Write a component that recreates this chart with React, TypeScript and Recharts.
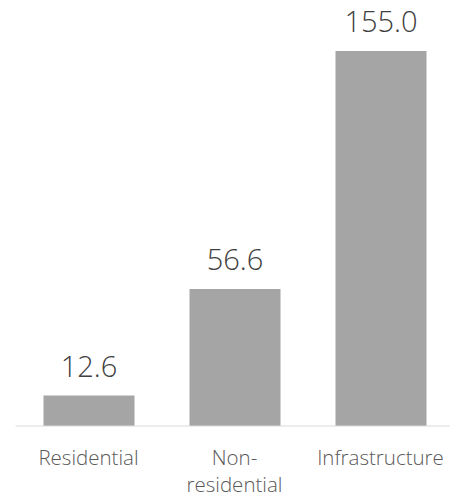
import React from "react";
import { BarChart, Bar, XAxis, YAxis, LabelList } from "recharts";

const categories = ["Residential", "Non-residential", "Infrastructure"];
const values = [12.6, 56.6, 155.0];

const data = categories.map((name, i) => ({ name, value: values[i] }));

const FONT = "'Open Sans', 'DejaVu Sans', sans-serif";

const CategoryTick = (props: any) => {
  const { x, y, payload } = props;
  const label: string = payload.value;
  const idx = label.indexOf("-");
  const lines = idx >= 0 ? [label.slice(0, idx + 1), label.slice(idx + 1)] : [label];
  return (
    <text
      x={x}
      y={y + 39}
      textAnchor="middle"
      fill="#595959"
      fontFamily={FONT}
      fontWeight={300}
      fontSize={20.5}
    >
      {lines.map((l, i) => (
        <tspan key={i} x={x} dy={i === 0 ? 0 : 27}>
          {l}
        </tspan>
      ))}
    </text>
  );
};

export default function App() {
  return (
    <div style={{ position: "absolute", left: 0, top: 0 }}>
      <BarChart
        width={460}
        height={497}
        data={data}
        margin={{ top: 39, right: 6.5, bottom: 0, left: 15.5 }}
      >
        <YAxis hide domain={[0, 160]} width={0} />
        <XAxis
          dataKey="name"
          height={71}
          axisLine={{ stroke: "#D9D9D9", strokeWidth: 1 }}
          tickLine={false}
          tickSize={0}
          tickMargin={0}
          interval={0}
          tick={<CategoryTick />}
        />
        <Bar dataKey="value" fill="#A5A5A5" barSize={91} isAnimationActive={false}>
          <LabelList
            dataKey="value"
            position="top"
            offset={19}
            formatter={(v: any) => Number(v).toFixed(1)}
            fill="#404040"
            fontFamily={FONT}
            fontWeight={300}
            fontSize={29}
          />
        </Bar>
      </BarChart>
    </div>
  );
}
